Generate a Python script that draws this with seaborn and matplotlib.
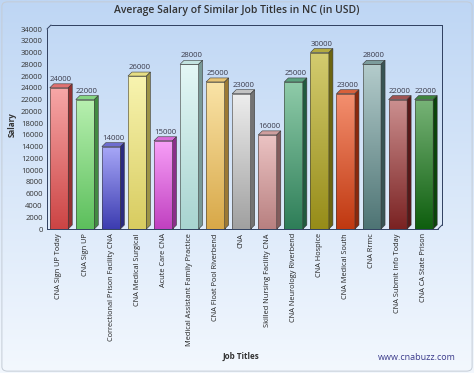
import numpy as np
import pandas as pd
import matplotlib
matplotlib.use("Agg")
import matplotlib.pyplot as plt
import seaborn as sns
from matplotlib.colors import to_rgb, LinearSegmentedColormap
from matplotlib.patches import Polygon, Rectangle, FancyBboxPatch

# ---- data ----
job_titles = [
    "CNA Sign UP Today", "CNA Sign UP", "Correctional Prison Facility CNA",
    "CNA Medical Surgical", "Acute Care CNA", "Medical Assistant Family Practice",
    "CNA Float Pool Riverbend", "CNA", "Skilled Nursing Facility CNA",
    "CNA Neurology Riverbend", "CNA Hospice", "CNA Medical South", "CNA Rrmc",
    "CNA Submit Info Today", "CNA CA State Prison",
]
salaries = [24000, 22000, 14000, 26000, 15000, 28000, 25000, 23000,
            16000, 25000, 30000, 23000, 28000, 22000, 22000]
y_ticks = list(range(0, 34001, 2000))
title = "Average Salary of Similar Job Titles in NC (in USD)"

# ---- style ----
top_colors = ['#f7a8a8', '#b8f0b0', '#a8a8f8', '#f8f4b0', '#f8a0f8', '#e4f8f6',
              '#fae4a8', '#eeeeee', '#ecc4c4', '#90ccaa', '#d4cc70', '#f49070',
              '#b4cccc', '#cc9090', '#78b478']
bottom_colors = ['#cc4444', '#5cbf5c', '#3c3cb0', '#d8cc60', '#c040c0', '#a8d4d0',
                 '#d8a848', '#a0a0a0', '#b88080', '#2e7e58', '#968c18', '#c03810',
                 '#4e7474', '#7a2222', '#0e5e0e']

sns.set_theme(style="white")
plt.rcParams['font.family'] = ['Open Sans', 'DejaVu Sans']

W, H = 474, 373
fig = plt.figure(figsize=(W / 100, H / 100), dpi=100)

# background gradient
bg = fig.add_axes([0, 0, 1, 1], zorder=-10)
grad = np.linspace(0, 1, 256).reshape(-1, 1)
bg.imshow(grad, aspect='auto', extent=[0, 1, 0, 1], origin='upper',
          cmap=LinearSegmentedColormap.from_list('bg', ['#bed6f4', '#f3f8fe']))
bg.add_patch(FancyBboxPatch((0.004, 0.005), 0.992, 0.99,
                            boxstyle="round,pad=0,rounding_size=0.012",
                            fill=False, edgecolor='#c4ccd6', lw=0.7,
                            transform=bg.transAxes))
bg.set_xlim(0, 1); bg.set_ylim(0, 1)
bg.axis('off')

ax_l, ax_r, ax_b, ax_t = 47, 438, 229, 29
ax = fig.add_axes([ax_l / W, 1 - ax_b / H, (ax_r - ax_l) / W, (ax_b - ax_t) / H])
ax.patch.set_alpha(0)

df = pd.DataFrame({"title": job_titles, "salary": salaries})
sns.barplot(data=df, x="title", y="salary", ax=ax, width=0.71,
            palette=bottom_colors, hue="title", legend=False,
            edgecolor='#333333', linewidth=0.4)

xmin, xmax = -0.46, 14.54
ymax = 34000
ax.set_xlim(xmin, xmax)
ax.set_ylim(0, ymax)

depth_px = 4
ddx = depth_px * (xmax - xmin) / (ax_r - ax_l)
ddy = depth_px * ymax / (ax_b - ax_t)

def scale(c, f):
    r, g, b = to_rgb(c)
    return (r * f, g * f, b * f)

def mix(a, b, t):
    a, b = np.array(to_rgb(a)), np.array(to_rgb(b))
    return tuple(a * (1 - t) + b * t)

for i, p in enumerate(ax.patches[:len(salaries)]):
    x0, w, h = p.get_x(), p.get_width(), p.get_height()
    cm = LinearSegmentedColormap.from_list(f'b{i}', [top_colors[i], bottom_colors[i]])
    im = ax.imshow(grad, extent=[x0, x0 + w, 0, h], aspect='auto', origin='upper',
                   cmap=cm, zorder=3)
    im.set_clip_path(p)
    ax.add_patch(Rectangle((x0, 0), w, h, fill=False, edgecolor='#3a3a3a',
                           lw=0.4, zorder=4))
    top = Polygon([(x0, h), (x0 + ddx, h + ddy), (x0 + w + ddx, h + ddy), (x0 + w, h)],
                  closed=True, facecolor=mix(top_colors[i], bottom_colors[i], 0.55),
                  edgecolor='#3a3a3a', lw=0.4, zorder=4, clip_on=False)
    side = Polygon([(x0 + w, 0), (x0 + w, h), (x0 + w + ddx, h + ddy), (x0 + w + ddx, ddy)],
                   closed=True, facecolor=scale(bottom_colors[i], 0.72),
                   edgecolor='#3a3a3a', lw=0.4, zorder=4, clip_on=False)
    ax.add_patch(top)
    ax.add_patch(side)
    ax.annotate(f"{salaries[i]}", (x0 + w / 2, h), xytext=(2, 5),
                textcoords='offset pixels', ha='center', va='bottom',
                fontsize=5.6, color='#3a3a4a', zorder=6, annotation_clip=False)

ax.set_xlim(xmin, xmax)
ax.set_ylim(0, ymax)

# 3D frame
fc = '#2f3f5f'
frame_lines = [
    [(xmin, 0), (xmin, ymax)],
    [(xmin, ymax), (xmin + ddx, ymax + ddy)],
    [(xmin + ddx, ymax + ddy), (xmax + ddx, ymax + ddy)],
    [(xmax + ddx, ymax + ddy), (xmax + ddx, ddy)],
    [(xmin, 0), (xmax, 0)],
    [(xmax, 0), (xmax + ddx, ddy)],
]
for ln in frame_lines:
    xs, ys = zip(*ln)
    ax.plot(xs, ys, color=fc, lw=0.7, clip_on=False, zorder=2)

for s in ax.spines.values():
    s.set_visible(False)

ax.set_yticks(y_ticks)
ax.set_yticklabels([str(v) for v in y_ticks], fontsize=5.5, color='#333333')
ax.set_xticks(range(len(job_titles)))
ax.set_xticklabels(job_titles, rotation=90, fontsize=5.3, color='#222222')
ax.tick_params(axis='both', length=0)
ax.tick_params(axis='y', pad=3)
ax.tick_params(axis='x', pad=3)
ax.set_xlabel("")
ax.set_ylabel("")

fig.text(12 / W, 1 - 125 / H, "Salary", rotation=90, ha='center', va='center',
         fontsize=5.8, fontweight='bold', color='#333333')
fig.text(241 / W, 1 - 356 / H, "Job Titles", ha='center', va='center',
         fontsize=5.8, fontweight='bold', color='#333333')
fig.text(237 / W, 1 - 11 / H, title, ha='center', va='center',
         fontsize=7.5, fontweight='semibold', color='#333333')
fig.text(417 / W, 1 - 358 / H, "www.cnabuzz.com", ha='center', va='center',
         fontsize=6.5, color='#3c3c8c')

fig.savefig("out.png", dpi=100)
